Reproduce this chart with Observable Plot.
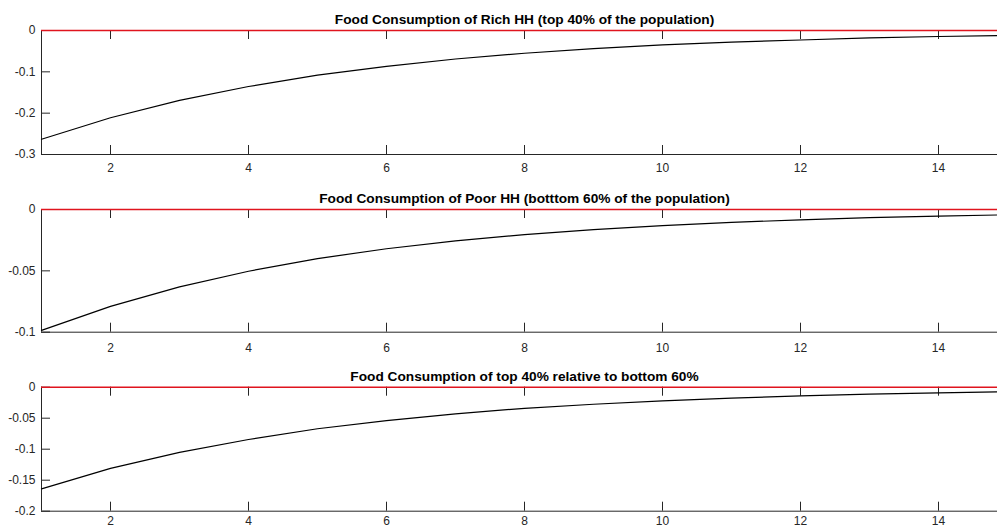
<!DOCTYPE html>
<html>
<head>
<meta charset="utf-8">
<script src="https://cdn.jsdelivr.net/npm/d3@7"></script>
<script src="https://cdn.jsdelivr.net/npm/@observablehq/plot@0.6"></script>
<style>
  html, body { margin: 0; padding: 0; background: #fff; overflow: hidden; width: 997px; height: 529px; }
  #chart svg { display: block; max-width: none !important; }
</style>
</head>
<body>
<div id="chart"></div>
<script>
// ---- data ----
const periods = [1, 2, 3, 4, 5, 6, 7, 8, 9, 10, 11, 12, 13, 14, 15];
const richHH = [-0.263, -0.211, -0.169, -0.1355, -0.108, -0.087, -0.069, -0.055, -0.044, -0.035, -0.028, -0.023, -0.018, -0.0145, -0.012];
const poorHH = [-0.0985, -0.079, -0.063, -0.0503, -0.040, -0.032, -0.0256, -0.0205, -0.0164, -0.0131, -0.0105, -0.0084, -0.0067, -0.0054, -0.0043];
const relativeTopBottom = [-0.164, -0.131, -0.105, -0.0844, -0.067, -0.054, -0.043, -0.034, -0.0275, -0.022, -0.0176, -0.014, -0.0113, -0.009, -0.0072];
const xTicks = [2, 4, 6, 8, 10, 12, 14];
const yTicksRich = [-0.3, -0.2, -0.1, 0];
const yTicksPoor = [-0.1, -0.05, 0];
const yTicksRel = [-0.2, -0.15, -0.1, -0.05, 0];
const titles = [
  "Food Consumption of Rich HH (top 40% of the population)",
  "Food Consumption of Poor HH (botttom 60% of the population)",
  "Food Consumption of top 40% relative to bottom 60%"
];

const panels = [
  {title: titles[0], values: richHH, yTicks: yTicksRich, yDomain: [-0.3, 0], height: 178, marginTop: 30, marginBottom: 24, xPad: 9},
  {title: titles[1], values: poorHH, yTicks: yTicksPoor, yDomain: [-0.1, 0], height: 178, marginTop: 31, marginBottom: 24.3, xPad: 11},
  {title: titles[2], values: relativeTopBottom, yTicks: yTicksRel, yDomain: [-0.2, 0], height: 173, marginTop: 30.7, marginBottom: 18.3, xPad: 5}
];

const W = 1008, ML = 41, MR = 1;
const axisColor = "#262626";
const TICK = 9;

const container = document.getElementById("chart");
for (const p of panels) {
  const rows = periods.map((x, i) => ({x, y: p.values[i]}));
  const innerH = p.height - p.marginTop - p.marginBottom;
  const innerW = W - ML - MR;
  const chart = Plot.plot({
    width: W,
    height: p.height,
    marginLeft: ML,
    marginRight: MR,
    marginTop: p.marginTop,
    marginBottom: p.marginBottom,
    style: {fontFamily: "'Liberation Sans', Arial, sans-serif", fontSize: "12px", color: axisColor, background: "#fff", maxWidth: "none"},
    x: {domain: [1, 15]},
    y: {domain: p.yDomain},
    marks: [
      // axes labels
      Plot.axisX(xTicks, {tickSize: 0, tickPadding: p.xPad, tickFormat: d => String(d), fontSize: 12, fill: axisColor, label: null}),
      Plot.axisY(p.yTicks, {tickSize: 0, tickPadding: 6, tickFormat: d => String(d), fontSize: 12, fill: axisColor, label: null}),
      // inward ticks (bottom, top, left)
      Plot.tickX(xTicks, {x: d => d, stroke: axisColor, strokeWidth: 1, insetTop: innerH - TICK}),
      Plot.tickX(xTicks, {x: d => d, stroke: axisColor, strokeWidth: 1, insetBottom: innerH - TICK}),
      Plot.tickY(p.yTicks, {y: d => d, stroke: axisColor, strokeWidth: 1, insetRight: innerW - TICK}),
      // box lines
      Plot.ruleX([1], {stroke: axisColor, strokeWidth: 1}),
      Plot.ruleY([p.yDomain[0]], {stroke: axisColor, strokeWidth: 1}),
      // data
      Plot.line(rows, {x: "x", y: "y", stroke: "#000", strokeWidth: 1.2}),
      // zero reference line
      Plot.ruleY([0], {stroke: "#e0141e", strokeWidth: 1.6}),
      // title
      Plot.text([p.title], {frameAnchor: "top", dy: -11, lineAnchor: "middle", text: d => d, fontWeight: "bold", fontSize: 13.7, fill: "#000"})
    ]
  });
  container.appendChild(chart);
}
</script>
</body>
</html>
